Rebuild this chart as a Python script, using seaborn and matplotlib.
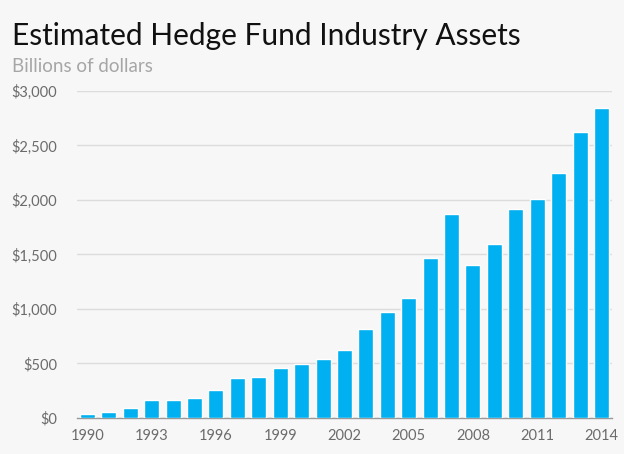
import matplotlib
matplotlib.use('Agg')
import matplotlib.pyplot as plt
import seaborn as sns
import numpy as np
import pandas as pd
from matplotlib.ticker import FuncFormatter

# Estimated hedge fund industry assets, billions of dollars
years = [str(y) for y in range(1990, 2015)]
assets = [39, 58, 96, 168, 167, 186, 257, 368, 375, 456, 491, 539, 626,
          820, 973, 1105, 1465, 1868, 1407, 1600, 1917, 2008, 2252, 2628, 2845]
label_years = ['1990', '1993', '1996', '1999', '2002', '2005', '2008', '2011', '2014']

BG = '#f7f7f7'
BAR = '#00b0f0'
GRAY = '#6b6b6b'

sns.set_theme(style='white')
plt.rcParams['font.family'] = ['Lato', 'DejaVu Sans']

df = pd.DataFrame({'year': years, 'assets': assets})

fig = plt.figure(figsize=(6.24, 4.54), dpi=100, facecolor=BG)
ax = fig.add_axes([0.123, 0.0793, 0.858, 0.7203], facecolor=BG)

sns.barplot(data=df, x='year', y='assets', color=BAR, width=0.7,
            saturation=1, ax=ax, zorder=3)

ax.set_ylim(0, 3000)
ax.set_xlim(-0.5, len(years) - 0.5)
ax.set_yticks(np.arange(0, 3001, 500))
ax.yaxis.set_major_formatter(FuncFormatter(lambda v, p: f'${v:,.0f}'))
ax.grid(axis='y', color='#dcdcdc', lw=1, zorder=0)
ax.set_axisbelow(True)

# year labels every 3 years, tick marks between categories
ax.set_xticks([years.index(y) for y in label_years])
ax.set_xticklabels(label_years)
ax.set_xticks(np.arange(-0.5, len(years)), minor=True)
ax.tick_params(axis='x', which='major', length=0, pad=8, labelsize=10.5, labelcolor=GRAY)
ax.tick_params(axis='x', which='minor', length=5, width=1, color='#999999', direction='out')
ax.tick_params(axis='y', length=0, pad=14, labelsize=10.5, labelcolor=GRAY)

for s in ['top', 'right', 'left']:
    ax.spines[s].set_visible(False)
ax.spines['bottom'].set_color('#999999')
ax.spines['bottom'].set_linewidth(1)
ax.set_xlabel('')
ax.set_ylabel('')

fig.text(0.019, 0.901, 'Estimated Hedge Fund Industry Assets', fontsize=21.5,
         fontweight='normal', color='#111111', va='baseline', ha='left')
fig.text(0.019, 0.841, 'Billions of dollars', fontsize=13.5,
         fontweight='normal', color='#a6a6a6', va='baseline', ha='left')

fig.savefig('out.png', dpi=100, facecolor=BG)
